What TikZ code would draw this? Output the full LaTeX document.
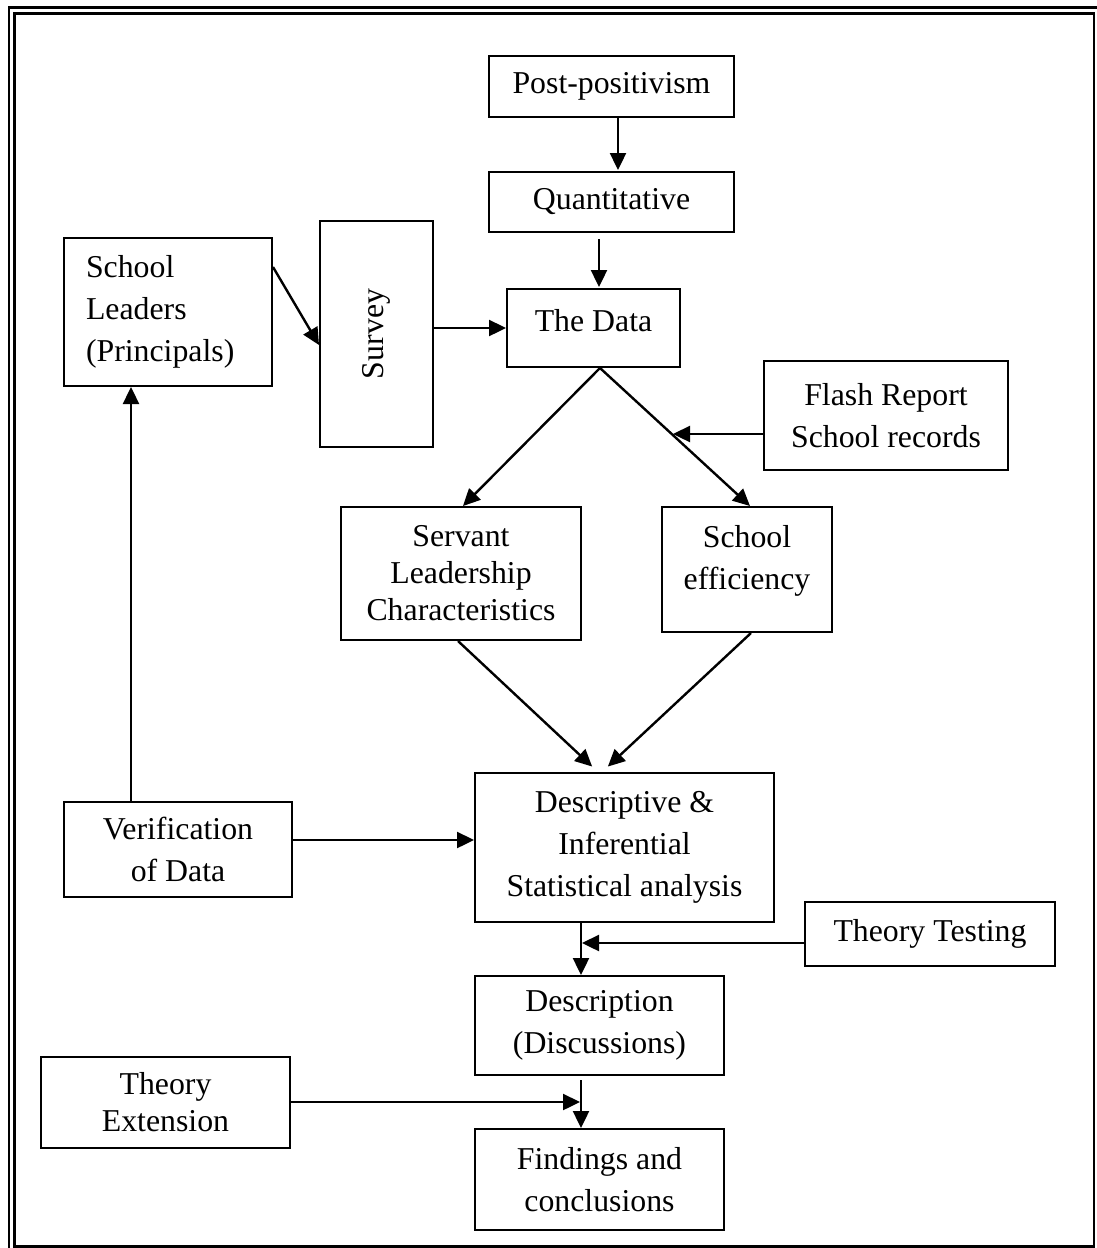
\documentclass[tikz,border=0pt]{standalone}
\usepackage{fontspec}
\setmainfont{Liberation Serif}
\usetikzlibrary{arrows.meta}
\newcommand\diagfont{\fontsize{31.8}{42}\selectfont}
\begin{document}
\begin{tikzpicture}[x=1pt,y=-1pt,
  box/.style={draw, line width=2pt, inner sep=0pt, align=center, font=\diagfont},
  txt/.style={inner sep=0pt, align=center, font=\diagfont},
  arr/.style={line width=2.4pt, -{Triangle[length=17pt,width=16pt]}},
  frame/.style={line width=2.6pt}]
\useasboundingbox (0,0) rectangle (1096,1248);
% frame
\draw[frame] (9,7.5) rectangle (1110,1262);
\draw[frame] (14.5,13.5) rectangle (1094,1246.5);

% boxes
\node[box, minimum width=245pt, minimum height=61pt] (post) at (611.5,86.5) {Post-positivism};
\node[box, minimum width=245pt, minimum height=60pt] (quant) at (611.5,202) {Quantitative};
\node[box, minimum width=173pt, minimum height=78pt] (data) at (593.5,328) {};
\node[txt] (datat) at (593.5,321) {The Data};
\node[box, minimum width=208pt, minimum height=148pt, align=left, text width=164pt, inner xsep=22pt] (lead) at (168,312) {School\\Leaders\\(Principals)};
\node[box, minimum width=113pt, minimum height=226pt] (survey) at (376.5,334) {\rotatebox{90}{Survey}};
\node[box, minimum width=244pt, minimum height=109pt] (flash) at (886,415.5) {Flash Report\\School records};
\node[box, minimum width=240pt, minimum height=133pt] (serv) at (461,573.5) {Servant\\[-5pt]Leadership\\[-5pt]Characteristics};
\node[box, minimum width=170pt, minimum height=125pt] (eff) at (747,569.5) {};
\node[txt] (efft) at (747,561) {School\\efficiency};
\node[box, minimum width=299pt, minimum height=149pt] (desc) at (624.5,847.5) {Descriptive \&\\Inferential\\Statistical analysis};
\node[box, minimum width=228pt, minimum height=95pt] (verif) at (178,849.5) {Verification\\of Data};
\node[box, minimum width=250pt, minimum height=64pt] (tt) at (930,934) {Theory Testing};
\node[box, minimum width=249pt, minimum height=99pt] (disc) at (599.5,1025.5) {Description\\(Discussions)};
\node[box, minimum width=249pt, minimum height=91pt] (ext) at (165.5,1102.5) {Theory\\[-5pt]Extension};
\node[box, minimum width=249pt, minimum height=101pt] (find) at (599.5,1179.5) {Findings and\\conclusions};

% helper coordinates
\coordinate (x618) at (618,0);
\coordinate (x599) at (599,0);
\coordinate (x600) at (600,0);
\coordinate (x463) at (463,0);
\coordinate (x750) at (750,0);
\coordinate (x458) at (458,0);
\coordinate (x751) at (751,0);
\coordinate (x598) at (598,0);
\coordinate (x602) at (602,0);
\coordinate (x131) at (131,0);
\coordinate (x581) at (581,0);
\coordinate (y267) at (0,267);
\coordinate (y345) at (0,345);
\coordinate (y328) at (0,328);
\coordinate (y434) at (0,434);
\coordinate (y840) at (0,840);
\coordinate (y943) at (0,943);
\coordinate (y1102) at (0,1102);
\coordinate (fx) at (673,434);
\coordinate (tp) at (582,943);
\coordinate (ep) at (580,1102);

% connectors
\draw[arr, shorten >=1pt] (post.south -| x618) -- (quant.north -| x618);
\draw[arr, shorten <=6pt, shorten >=1pt] (quant.south -| x599) -- (data.north -| x599);
\draw[arr] (lead.east |- y267) -- (survey.west |- y345);
\draw[arr] (survey.east |- y328) -- (data.west |- y328);
\draw[arr] (data.south -| x600) -- (serv.north -| x463);
\draw[arr] (data.south -| x600) -- (eff.north -| x750);
\draw[arr] (flash.west |- y434) -- (fx);
\draw[arr, shorten >=8pt] (serv.south -| x458) -- (desc.north -| x598);
\draw[arr, shorten >=8pt] (eff.south -| x751) -- (desc.north -| x602);
\draw[arr] (verif.east |- y840) -- (desc.west |- y840);
\draw[arr] (verif.north -| x131) -- (lead.south -| x131);
\draw[arr] (desc.south -| x581) -- (disc.north -| x581);
\draw[arr] (tt.west |- y943) -- (tp);
\draw[arr, shorten <=4pt] (disc.south -| x581) -- (find.north -| x581);
\draw[arr] (ext.east |- y1102) -- (ep);
\end{tikzpicture}
\end{document}
